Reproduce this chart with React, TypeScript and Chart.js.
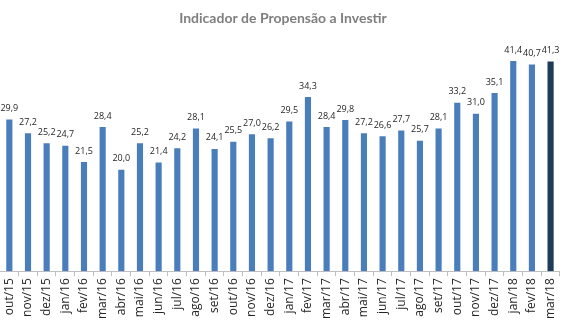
import React, { useEffect, useRef } from "react";
import { Chart, registerables } from "chart.js";

Chart.register(...registerables);

const categories = [
  "out/15", "nov/15", "dez/15", "jan/16", "fev/16", "mar/16", "abr/16", "mai/16",
  "jun/16", "jul/16", "ago/16", "set/16", "out/16", "nov/16", "dez/16", "jan/17",
  "fev/17", "mar/17", "abr/17", "mai/17", "jun/17", "jul/17", "ago/17", "set/17",
  "out/17", "nov/17", "dez/17", "jan/18", "fev/18", "mar/18",
];

const values = [
  29.9, 27.2, 25.2, 24.7, 21.5, 28.4, 20.0, 25.2, 21.4, 24.2, 28.1, 24.1, 25.5, 27.0,
  26.2, 29.5, 34.3, 28.4, 29.8, 27.2, 26.6, 27.7, 25.7, 28.1, 33.2, 31.0, 35.1, 41.4,
  40.7, 41.3,
];

const titleText = "Indicador de Propensão a Investir";

const BAR = "#4a7ebb";
const LAST = "#1f3b5a";

const valueLabels = {
  id: "valueLabels",
  afterDatasetsDraw(chart: any) {
    const ctx = chart.ctx;
    const meta = chart.getDatasetMeta(0);
    ctx.save();
    ctx.font = "9px 'Open Sans'";
    ctx.fillStyle = "#262626";
    ctx.textAlign = "center";
    ctx.textBaseline = "middle";
    meta.data.forEach((el: any, i: number) => {
      const v = values[i];
      ctx.fillText(v.toFixed(1).replace(".", ","), el.x, el.y - 11);
    });
    ctx.restore();
  },
};

export default function App() {
  const ref = useRef<HTMLCanvasElement>(null);
  useEffect(() => {
    if (!ref.current) return;
    const chart = new Chart(ref.current, {
      type: "bar",
      data: {
        labels: categories,
        datasets: [
          {
            data: values,
            backgroundColor: values.map((_, i) => (i === values.length - 1 ? LAST : BAR)),
            barPercentage: 0.6,
            categoryPercentage: 0.55,
          },
        ],
      },
      options: {
        animation: false,
        responsive: false,
        maintainAspectRatio: false,
        layout: { padding: { left: 0, right: 1, top: 0, bottom: 0 } },
        plugins: {
          legend: { display: false },
          tooltip: { enabled: false },
          title: {
            display: true,
            text: titleText,
            color: "#7f7f7f",
            font: { family: "Lato", size: 14, weight: "bold" },
            padding: { top: 10, bottom: 16 },
          },
        },
        scales: {
          x: {
            grid: {
              display: true,
              drawOnChartArea: false,
              drawTicks: true,
              tickLength: 5,
              color: "#bfbfbf",
            },
            border: { color: "#bfbfbf" },
            ticks: {
              color: "#262626",
              font: { family: "Open Sans", size: 12 },
              minRotation: 90,
              maxRotation: 90,
              padding: 2,
              autoSkip: false,
            },
          },
          y: {
            display: false,
            min: 0,
            max: 45,
          },
        },
      },
      plugins: [valueLabels],
    });
    return () => chart.destroy();
  }, []);
  return (
    <div style={{ position: "fixed", left: 0, top: 0, width: 567, height: 321, background: "#fff" }}>
      <canvas ref={ref} width={567} height={321} />
    </div>
  );
}
